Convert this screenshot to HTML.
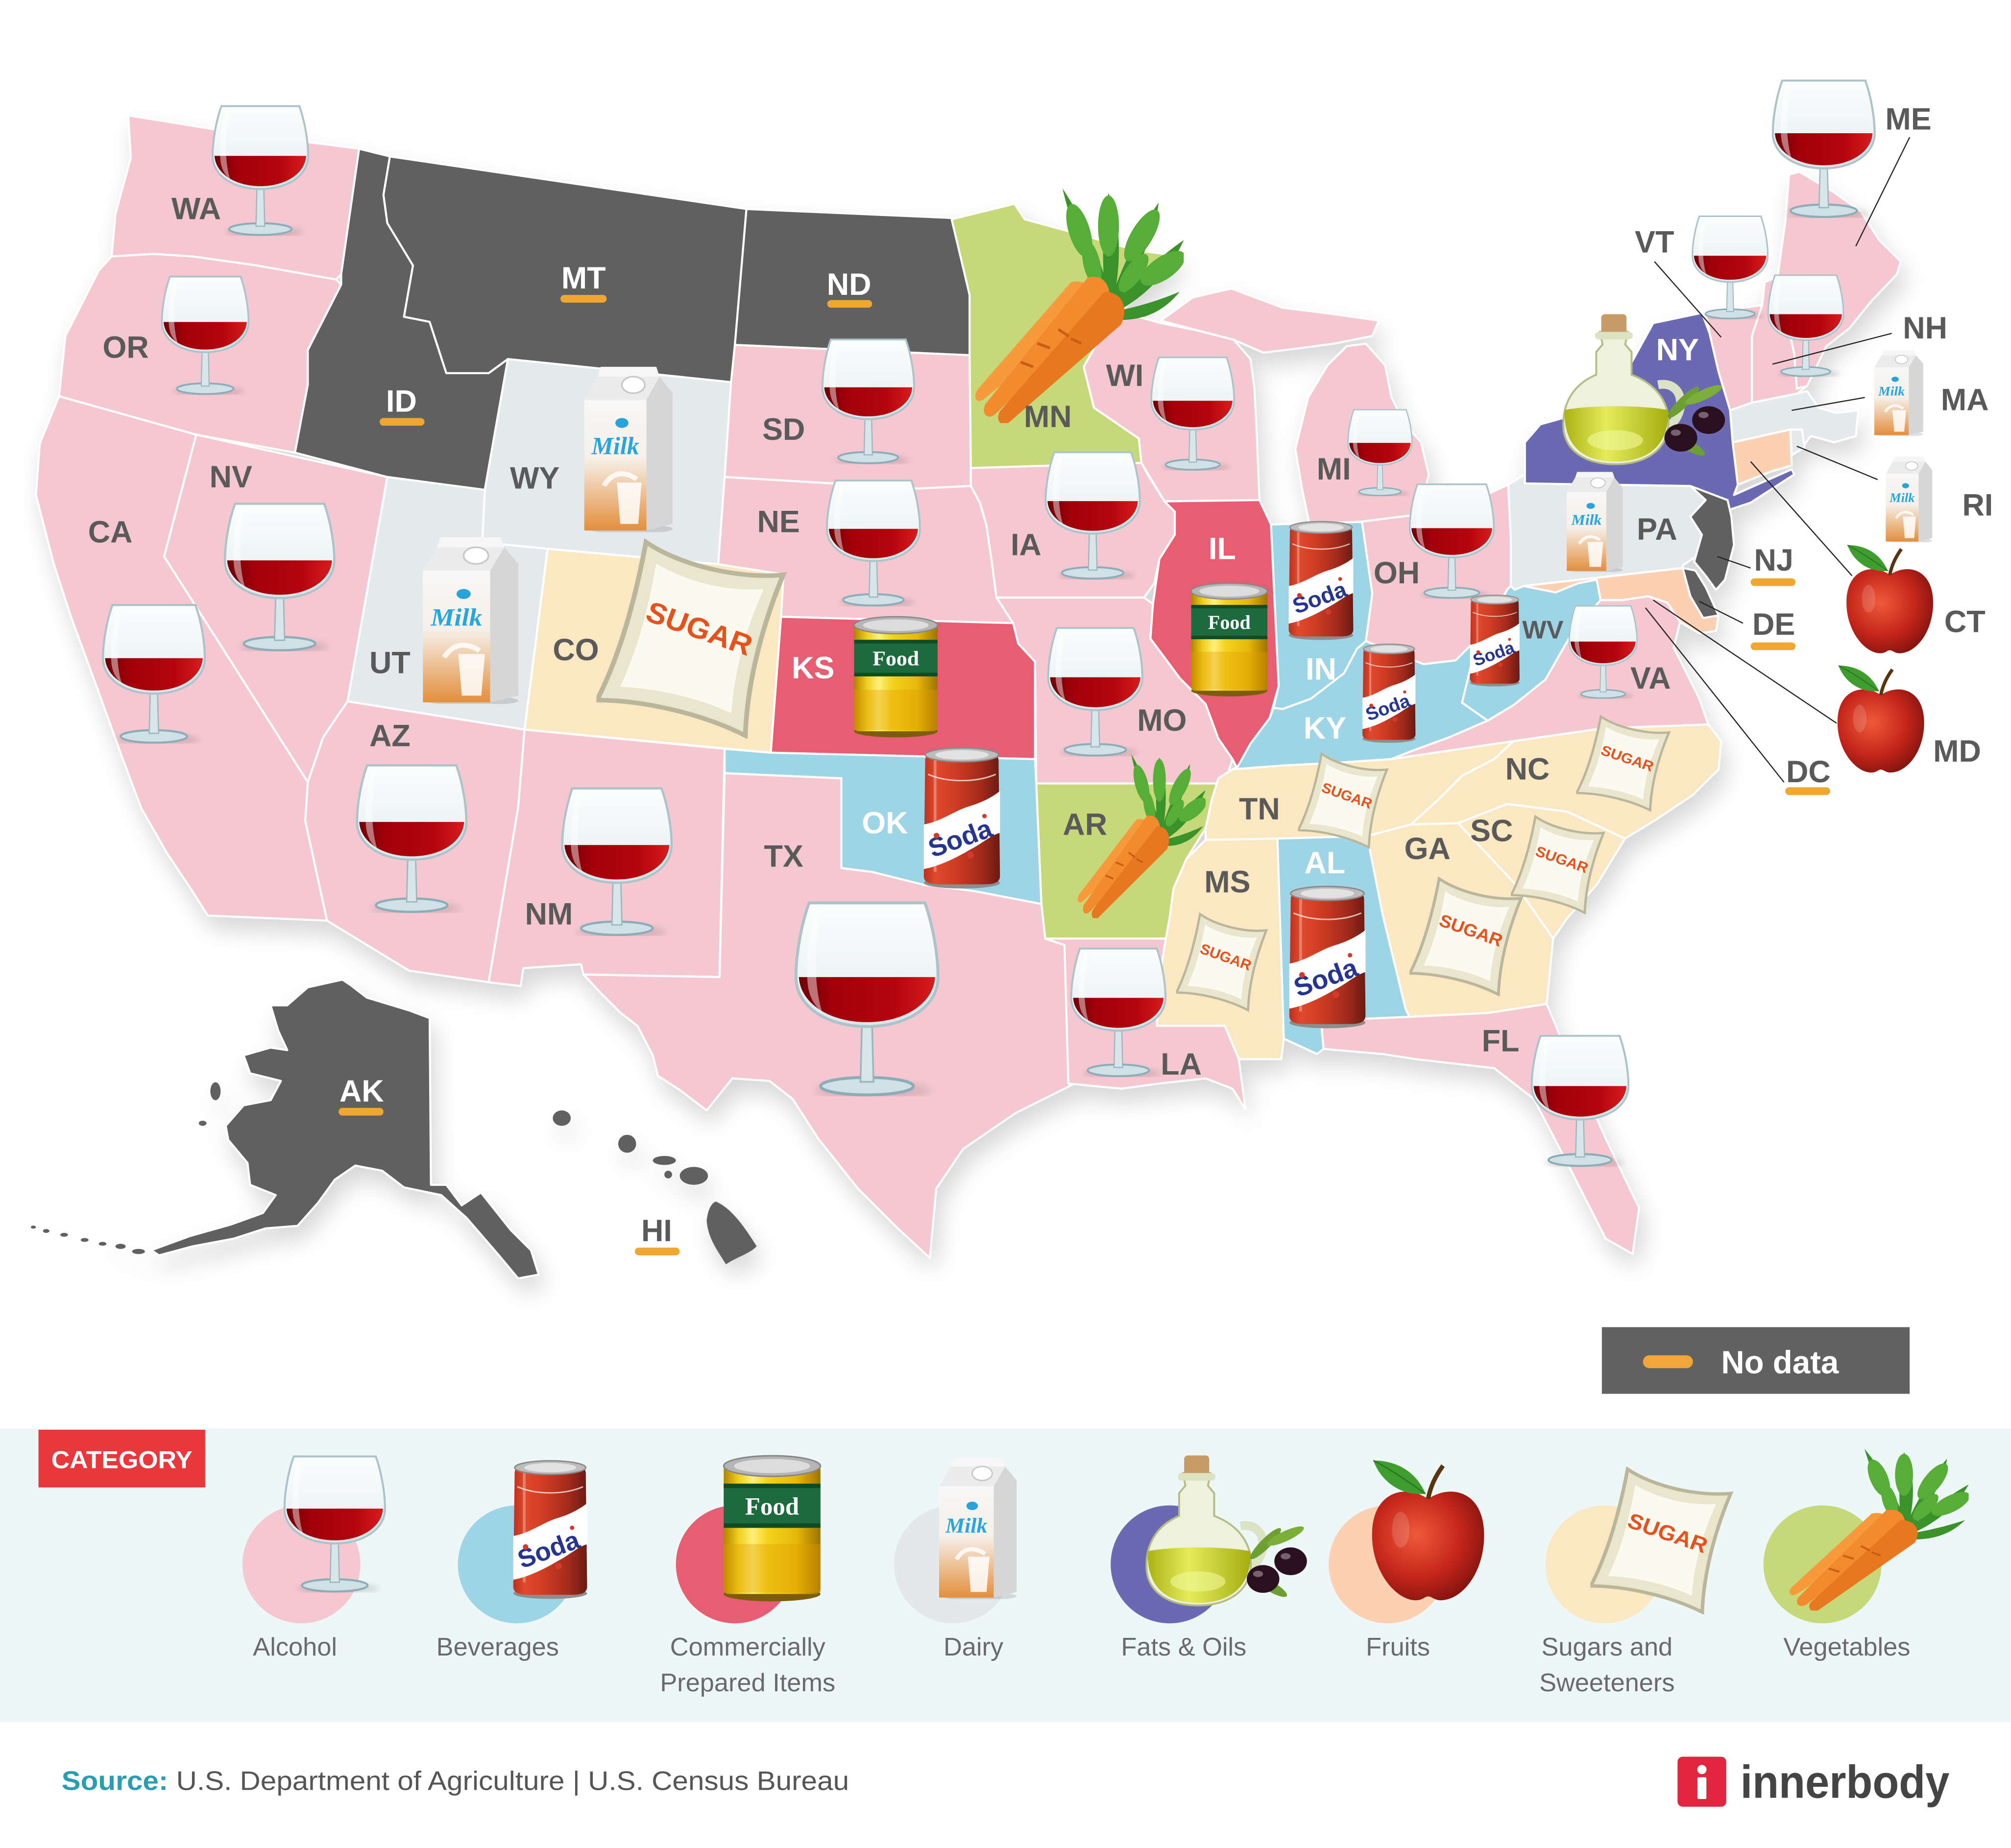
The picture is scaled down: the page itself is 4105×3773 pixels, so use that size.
<!DOCTYPE html>
<html><head><meta charset="utf-8"><style>
html,body{margin:0;padding:0;background:#fff;}
body{width:4105px;height:3773px;overflow:hidden;}
svg{display:block;}
</style></head><body>
<svg xmlns="http://www.w3.org/2000/svg" width="4105" height="3773" viewBox="0 0 1568 1441.2">
<defs>
<linearGradient id="gg" x1="0" y1="0" x2="0" y2="1"><stop offset="0" stop-color="#fbfdfd"/><stop offset=".6" stop-color="#eef4f5"/><stop offset="1" stop-color="#d9e5e8"/></linearGradient>
<linearGradient id="wine" x1="0" y1="0" x2="1" y2="0"><stop offset="0" stop-color="#6e0006"/><stop offset=".25" stop-color="#a2000a"/><stop offset=".7" stop-color="#b3050d"/><stop offset="1" stop-color="#d81c1e"/></linearGradient>
<linearGradient id="sodaG" x1="0" y1="0" x2="1" y2="0"><stop offset="0" stop-color="#b8321f"/><stop offset=".15" stop-color="#e0492c"/><stop offset=".4" stop-color="#d03d24"/><stop offset=".75" stop-color="#a32a1c"/><stop offset="1" stop-color="#6a1b13"/></linearGradient>
<linearGradient id="foodG" x1="0" y1="0" x2="1" y2="0"><stop offset="0" stop-color="#b08400"/><stop offset=".15" stop-color="#eecd1e"/><stop offset=".3" stop-color="#fff07a"/><stop offset=".45" stop-color="#f3d31e"/><stop offset=".75" stop-color="#e7b80a"/><stop offset="1" stop-color="#9f7300"/></linearGradient>
<linearGradient id="milkG" x1="0" y1="0" x2="0" y2="1"><stop offset="0" stop-color="#f7f7f7"/><stop offset=".45" stop-color="#f6f0e8"/><stop offset="1" stop-color="#e38e3c"/></linearGradient>
<radialGradient id="apG" cx=".4" cy=".4" r=".65"><stop offset="0" stop-color="#ef5a3a"/><stop offset=".6" stop-color="#c4261a"/><stop offset="1" stop-color="#861410"/></radialGradient>
<linearGradient id="oilG" x1="0" y1="0" x2="1" y2="0"><stop offset="0" stop-color="#a9b314"/><stop offset=".4" stop-color="#e4ec5a"/><stop offset="1" stop-color="#a4ae10"/></linearGradient>
<filter id="sh" x="-10%" y="-10%" width="120%" height="120%"><feGaussianBlur in="SourceAlpha" stdDeviation="9"/><feOffset dx="4" dy="10"/><feComponentTransfer><feFuncA type="linear" slope="0.16"/></feComponentTransfer></filter>
<filter id="bl" x="-50%" y="-50%" width="200%" height="200%"><feGaussianBlur stdDeviation="3"/></filter>

<symbol id="glass" viewBox="0 0 100 134" preserveAspectRatio="none">
<ellipse cx="54" cy="130" rx="40" ry="5" fill="#000" opacity=".13" filter="url(#bl)"/>
<ellipse cx="50" cy="127" rx="32" ry="6" fill="#cfe1e6" stroke="#8cadb7" stroke-width="2"/>
<path d="M46.5,84 L45.5,124 L54.5,124 L53.5,84Z" fill="#d8e6ea" stroke="#9cb6be" stroke-width="1.2"/>
<path d="M10,1 L90,1 C96,18 99,38 99,52 C99,72 78,86 50,86 C22,86 1,72 1,52 C1,38 4,18 10,1Z" fill="url(#gg)" stroke="#acc3ca" stroke-width="2"/>
<path d="M3,52 L97,52 C96,70 76,83 50,83 C24,83 4,70 3,52Z" fill="url(#wine)"/>
<path d="M14,6 C9,24 8,42 9,56 C10,66 14,72 19,76 C14,60 13,36 18,6Z" fill="#fff" opacity=".45"/>
</symbol>

<symbol id="soda" viewBox="0 0 60 105" preserveAspectRatio="none">
<ellipse cx="30" cy="100" rx="27" ry="4" fill="#8d8d8d"/>
<path d="M4,12 C4,8 8,6 12,6 L48,6 C52,6 56,8 56,12 L57,95 C57,100 52,101 46,101 L14,101 C8,101 3,100 3,95Z" fill="url(#sodaG)"/>
<path d="M3,58 C15,56 25,48 35,45 C45,42 52,38 57,34 L57,64 C50,66 44,72 36,76 C26,82 14,88 3,90Z" fill="#fff"/>
<path d="M10,12 L12,12 L12,92 L10,92Z" fill="#fff" opacity=".3"/>
<path d="M6,22 C20,28 40,28 54,22" stroke="#fff" stroke-width="1" fill="none" opacity=".7"/>
<text transform="translate(31,74) rotate(-20)" text-anchor="middle" font-family="Liberation Sans, sans-serif" font-weight="bold" font-size="19" fill="#26358f">Soda</text>
<circle cx="12" cy="66" r="2" fill="#d43a2a"/><circle cx="46" cy="52" r="1.6" fill="#d43a2a"/><circle cx="36" cy="80" r="2.4" fill="#d43a2a"/>
<ellipse cx="30" cy="8" rx="26" ry="5" fill="#bdbdbd" stroke="#8a8a8a" stroke-width="1"/>
<ellipse cx="30" cy="8" rx="19" ry="3.4" fill="#e2e2e2"/>
</symbol>

<symbol id="food" viewBox="0 0 70 102" preserveAspectRatio="none">
<ellipse cx="35" cy="96" rx="33" ry="5" fill="#7b5d0c"/>
<rect x="2" y="8" width="66" height="88" rx="3" fill="url(#foodG)"/>
<rect x="2" y="62" width="66" height="33" fill="#e39a00" opacity=".35"/>
<rect x="2" y="21" width="66" height="30" fill="#1c6a3d"/>
<rect x="2" y="21" width="66" height="3" fill="#0e4c28"/>
<rect x="2" y="48" width="66" height="3" fill="#0e4c28"/>
<text x="35" y="42" text-anchor="middle" font-family="Liberation Serif, serif" font-weight="bold" font-size="17" fill="#fff">Food</text>
<ellipse cx="35" cy="9" rx="33" ry="7" fill="#b5b5b5" stroke="#868686" stroke-width="1"/>
<ellipse cx="35" cy="9" rx="26" ry="4.8" fill="#dcdcdc"/>
</symbol>

<symbol id="milk" viewBox="0 0 58 100" preserveAspectRatio="none">
<ellipse cx="30" cy="98" rx="26" ry="3" fill="#000" opacity=".12"/>
<polygon points="40,20 48,6 56,16 56,95 40,99" fill="#d6d6d6"/>
<rect x="2" y="20" width="38" height="79" fill="url(#milkG)"/>
<polygon points="2,20 10,6 48,6 40,20" fill="#ececec"/>
<polygon points="10,6 12,0 46,0 48,6" fill="#f6f6f6"/>
<ellipse cx="32" cy="11" rx="7" ry="5" fill="#fff" stroke="#c8c8c8" stroke-width="1"/>
<ellipse cx="25" cy="34" rx="4" ry="3" fill="#29a3da"/>
<text x="21" y="53" text-anchor="middle" font-family="Liberation Serif, serif" font-style="italic" font-weight="bold" font-size="15" fill="#28a5de">Milk</text>
<path d="M22,70 L37,70 L35,95 L24,95Z" fill="#fff" opacity=".85"/>
<path d="M14,72 C20,62 28,64 34,68" stroke="#fff" stroke-width="3" fill="none" opacity=".8"/>
</symbol>

<symbol id="sugar" viewBox="0 0 100 110" preserveAspectRatio="none">
<g transform="rotate(14 50 55)">
<path d="M14,10 C34,18 66,18 88,10 C84,40 84,72 90,100 C66,94 34,94 10,100 C16,72 16,40 14,10Z" fill="#e9e6cd" stroke="#b9b69c" stroke-width="2.5"/>
<path d="M22,20 C40,26 62,26 80,20 C76,44 76,68 80,90 C62,86 40,86 20,90 C24,68 24,44 22,20Z" fill="#fbfaf0"/>
</g>
<text x="52" y="55" text-anchor="middle" font-family="Liberation Sans, sans-serif" font-weight="bold" font-size="16" fill="#e6521e" transform="rotate(20 52 55)">SUGAR</text>
</symbol>

<symbol id="carrot" viewBox="0 0 100 100" preserveAspectRatio="none">
<g fill="#3b922a">
<path d="M58,46 C52,30 46,15 42,0 C51,12 59,27 64,43Z"/>
<path d="M62,44 C61,28 61,14 64,2 C70,14 70,30 67,45Z"/>
<path d="M66,45 C72,30 80,16 88,6 C86,20 78,34 70,47Z"/>
<path d="M68,48 C78,38 90,28 100,22 C94,34 84,44 71,51Z"/>
<path d="M69,52 C80,50 90,47 98,44 C90,53 80,56 70,56Z"/>
</g>
<g fill="#56ad38">
<ellipse cx="50" cy="18" rx="5" ry="12" transform="rotate(-20 50 18)"/>
<ellipse cx="64" cy="16" rx="5" ry="13"/>
<ellipse cx="80" cy="20" rx="5" ry="13" transform="rotate(35 80 20)"/>
<ellipse cx="90" cy="34" rx="5" ry="12" transform="rotate(60 90 34)"/>
<ellipse cx="56" cy="32" rx="4" ry="10" transform="rotate(-15 56 32)"/>
<ellipse cx="76" cy="36" rx="4" ry="10" transform="rotate(40 76 36)"/>
</g>
<path d="M46,40 C54,38 58,44 56,52 L4,90 C0,92 -1,88 2,85Z" fill="#f69a3c"/>
<path d="M54,38 C62,36 66,42 64,50 L10,96 C6,99 3,96 5,92Z" fill="#f28b2e"/>
<path d="M62,44 C70,44 74,50 70,58 L16,100 C12,102 10,98 12,95Z" fill="#e8781f"/>
<path d="M30,66 l6,2 M22,74 l6,2 M40,60 l5,3 M46,64 l5,2" stroke="#c95e14" stroke-width="1.2"/>
</symbol>

<symbol id="apple" viewBox="0 0 100 115" preserveAspectRatio="none">
<path d="M50,34 C32,22 6,28 5,60 C4,90 24,113 40,113 C46,113 47,110 50,110 C53,110 55,113 60,113 C78,113 96,90 95,60 C94,28 68,22 50,34Z" fill="url(#apG)"/>
<path d="M50,34 C52,24 56,16 62,8" stroke="#5a3410" stroke-width="3.5" fill="none"/>
<path d="M48,30 C40,12 24,4 6,4 C12,20 28,32 48,30Z" fill="#3f9c2f"/>
<path d="M48,30 C36,22 22,12 6,4" stroke="#2a7520" stroke-width="1" fill="none"/>
<ellipse cx="28" cy="58" rx="7" ry="14" fill="#fff" opacity=".15"/>
</symbol>

<symbol id="oil" viewBox="0 0 130 120" preserveAspectRatio="none">
<path d="M76,56 C98,52 100,82 80,92" stroke="#dce3c4" stroke-width="7" fill="none"/>
<path d="M30,14 L52,14 L50,24 L55,30 L55,48 C76,56 86,72 84,90 C82,108 66,119 42,119 C18,119 2,108 1,90 C0,72 8,56 27,48 L27,30 L32,24Z" fill="#eef2dc" stroke="#b3bc86" stroke-width="1.5"/>
<path d="M2,76 C22,72 62,72 84,76 C85,104 68,117 42,117 C16,117 1,104 2,76Z" fill="url(#oilG)"/>
<ellipse cx="42" cy="100" rx="22" ry="8" fill="#f2f69a" opacity=".6"/>
<rect x="31" y="0" width="20" height="16" rx="3" fill="#c89a66"/>
<rect x="26" y="14" width="30" height="6" rx="3" fill="#dde3c0"/>
<ellipse cx="96" cy="70" rx="17" ry="4" fill="#6d9f32" transform="rotate(-45 96 70)"/>
<ellipse cx="112" cy="64" rx="16" ry="4" fill="#7cae3a" transform="rotate(-25 112 64)"/>
<ellipse cx="100" cy="104" rx="15" ry="4" fill="#6d9f32" transform="rotate(30 100 104)"/>
<ellipse cx="94" cy="98" rx="13" ry="11" fill="#2a0f1e"/>
<ellipse cx="116" cy="84" rx="13" ry="11" fill="#2a0f1e"/>
<ellipse cx="90" cy="94" rx="4" ry="2.5" fill="#fff" opacity=".35"/>
<ellipse cx="112" cy="80" rx="4" ry="2.5" fill="#fff" opacity=".35"/>
</symbol>
</defs>

<rect x="0" y="0" width="1568" height="1441.2" fill="#fff"/>

<use href="#land" filter="url(#sh)"/>
<g id="land" stroke="#fff" stroke-width="1.6" stroke-linejoin="round">
<polygon fill="#f5c7d0" points="100,90 180,103 280,116 266,214 262,218 200,207 150,200 120,198 87,200 90,167 102,123"/>
<polygon fill="#f5c7d0" points="87,200 120,198 150,200 200,207 262,218 266,222 240,273 240,300 230,353 153,339 46,309 51,262 77,211"/>
<polygon fill="#f5c7d0" points="46,309 153,339 128,434 240,610 238,640 255,718 162,714 150,695 130,665 110,630 95,590 77,540 55,480 42,440 28,386 31,346"/>
<polygon fill="#f5c7d0" points="153,339 302,372 271,547 262,560 252,575 240,610 128,434"/>
<polygon fill="#606060" points="280,116 304,122 299,152 302,174 322,207 315,247 335,251 348,291 381,291 396,280 378,382 302,372 230,353 240,300 240,273 266,222 266,214"/>
<polygon fill="#606060" points="304,122 582,163 573,269 570,298 396,280 381,291 348,291 335,251 315,247 322,207 302,174 299,152"/>
<polygon fill="#e4e9ec" points="396,280 570,298 565,372 560,440 427,428 376,423 378,382"/>
<polygon fill="#e4e9ec" points="302,372 378,382 376,423 427,428 409,569 271,547"/>
<polygon fill="#fbe8c3" points="427,428 560,440 611,448 609,481 601,587 409,569"/>
<polygon fill="#f5c7d0" points="271,547 409,569 404,630 381,766 319,757 255,718 238,640 240,610 252,575 262,560"/>
<polygon fill="#f5c7d0" points="409,569 565,584 561,762 455,760 453,752 408,755 406,769 381,766 404,630"/>
<polygon fill="#606060" points="582,163 742,170 756,230 756,277 573,269"/>
<polygon fill="#f5c7d0" points="573,269 756,277 757,365 757,379 716,381 565,372 570,298"/>
<polygon fill="#f5c7d0" points="565,372 716,381 757,379 764,392 769,409 773,436 777,466 790,486 609,481 611,448 560,440"/>
<polygon fill="#e75d71" points="609,481 790,486 794,502 807,516 807,592 601,587"/>
<polygon fill="#9dd5e6" points="565,584 601,587 807,592 808,611 812,705 760,695 720,690 680,680 656,677 656,607 565,603"/>
<polygon fill="#f5c7d0" points="565,603 656,607 656,677 680,680 720,690 760,695 812,705 815,732 830,737 833,790 838,845 792,868 751,896 730,927 727,960 725,981 700,958 669,927 638,888 618,857 600,843 571,841 551,866 530,850 513,839 509,823 497,800 484,790 468,774 455,760 561,762"/>
<polygon fill="#c6d87a" points="742,171 791,159 799,171 850,185 885,195 923,200 895,225 873,243 857,265 845,286 853,318 888,342 890,361 757,365 756,277 756,230"/>
<polygon fill="#f5c7d0" points="757,365 890,361 896,372 908,391 916,399 916,417 904,436 900,455 892,466 777,466 773,436 769,409 764,392 757,379"/>
<polygon fill="#f5c7d0" points="777,466 892,466 899,471 897,498 920,529 940,549 950,576 961,592 955,611 808,611 807,516 794,502 790,486"/>
<polygon fill="#c6d87a" points="808,611 952,611 945,623 940,646 925,670 915,693 912,716 909,732 815,732 812,705"/>
<polygon fill="#f5c7d0" points="815,732 909,732 904,763 902,800 955,800 966,826 971,865 961,849 940,841 904,845 874,849 833,845 830,737"/>
<polygon fill="#f5c7d0" points="873,243 905,252 935,258 962,265 975,280 978,302 980,340 982,390 908,391 890,361 888,342 853,318 845,286 857,265"/>
<polygon fill="#f5c7d0" points="905,250 930,232 960,225 1000,240 1040,245 1075,250 1070,262 1040,268 1010,272 985,275 962,265 935,258"/>
<polygon fill="#f5c7d0" points="1021,409 1015,380 1010,350 1020,310 1035,285 1050,270 1065,268 1080,285 1085,310 1095,330 1108,345 1114,370 1108,395 1100,402 1060,407"/>
<polygon fill="#e75d71" points="908,391 982,390 991,409 997,535 990,560 975,580 965,600 961,592 950,576 940,549 920,529 897,498 899,471 904,436 916,417 916,399"/>
<polygon fill="#9dd5e6" points="991,409 1062,407 1070,463 1065,500 1058,506 1048,525 1022,545 1000,553 993,552 997,535"/>
<polygon fill="#f5c7d0" points="1060,407 1100,402 1130,398 1150,390 1176,378 1178,420 1178,457 1175,460 1165,480 1150,500 1135,515 1110,518 1090,510 1065,500 1070,463 1062,407"/>
<polygon fill="#9dd5e6" points="961,600 965,598 975,580 990,560 993,552 1000,553 1022,545 1048,525 1058,506 1065,500 1090,510 1110,518 1135,515 1150,500 1148,515 1140,548 1160,562 1130,575 1100,586 1085,592 1040,595 1000,597"/>
<polygon fill="#9dd5e6" points="1178,420 1186,420 1188,457 1213,462 1230,455 1245,452 1248,468 1225,495 1205,530 1180,550 1160,562 1140,548 1148,515 1150,500 1165,480 1175,460 1178,457"/>
<polygon fill="#f5c7d0" points="1085,592 1100,586 1130,575 1160,562 1180,550 1205,530 1225,495 1248,468 1265,468 1285,465 1300,470 1310,485 1305,505 1315,525 1325,545 1332,565 1250,568 1180,578"/>
<polygon fill="#fbe8c3" points="950,607 961,600 1000,597 1040,595 1085,592 1180,578 1165,592 1140,605 1120,625 1100,643 1066,652 996,654 940,655 940,646 945,623"/>
<polygon fill="#fbe8c3" points="1100,643 1120,625 1140,605 1165,592 1180,578 1250,568 1332,565 1342,578 1340,600 1320,620 1290,640 1267,654 1222,633 1175,627 1137,642"/>
<polygon fill="#fbe8c3" points="1137,642 1175,627 1222,633 1267,654 1245,690 1222,716 1211,732 1181,689"/>
<polygon fill="#fbe8c3" points="1066,652 1100,643 1137,642 1181,689 1211,732 1206,783 1160,790 1099,793 1096,787 1078,713"/>
<polygon fill="#9dd5e6" points="996,654 1066,652 1078,713 1096,787 1099,793 1030,796 1032,818 1027,822 1001,810"/>
<polygon fill="#fbe8c3" points="940,655 996,654 1001,810 999,826 966,826 955,800 902,800 904,763 909,732 912,716 915,693 925,670"/>
<polygon fill="#f5c7d0" points="1030,796 1099,793 1160,790 1206,783 1219,814 1252,888 1278,942 1273,978 1252,966 1222,907 1196,857 1165,833 1104,826 1078,822 1032,818"/>
<polygon fill="#e4e9ec" points="1176,378 1189,370 1189,377 1318,379 1330,390 1318,403 1330,417 1324,433 1312,441 1312,443 1188,457 1181,460 1178,457 1178,420"/>
<polygon fill="#6c69b3" points="1189,377 1189,345 1201,331 1233,322 1245,300 1260,285 1272,283 1289,252 1327,244 1333,260 1340,290 1349,320 1351,345 1355,378 1352,386 1370,378 1397,366 1399,370 1365,392 1347,398 1330,390 1318,379"/>
<polygon fill="#606060" points="1318,379 1347,390 1350,403 1352,425 1345,452 1338,460 1330,449 1321,438 1327,417 1318,403 1330,390"/>
<polygon fill="#606060" points="1312,443 1322,445 1330,458 1340,480 1328,482 1318,465"/>
<polygon fill="#fcd1b3" points="1188,457 1312,443 1318,465 1328,482 1340,480 1338,492 1325,494 1310,485 1300,470 1285,465 1265,468 1248,468 1245,452 1230,455 1213,462"/>
<polygon fill="#f5c7d0" points="1330,244 1374,238 1366,262 1366,314 1349,320 1340,290 1333,260"/>
<polygon fill="#f5c7d0" points="1376,220 1386,216 1399,276 1401,303 1409,301 1401,307 1366,314 1366,262 1374,238"/>
<polygon fill="#f5c7d0" points="1395,136 1403,134 1430,150 1451,165 1465,187 1482,204 1479,214 1459,235 1442,256 1424,270 1409,301 1401,303 1399,276 1386,216 1392,173"/>
<polygon fill="#e4e9ec" points="1349,320 1366,314 1401,307 1409,305 1418,318 1432,322 1449,320 1447,340 1430,345 1412,340 1405,349 1396,335 1351,345"/>
<polygon fill="#fcd1b3" points="1351,345 1396,335 1397,363 1380,368 1355,378"/>
<polygon fill="#e4e9ec" points="1396,335 1405,335 1407,349 1397,355"/>
<polygon fill="#606060" points="267,764 273,768 286,778 319,788 335,794 336,924 348,924 360,940 375,930 398,959 414,975 420,994 404,997 389,979 364,950 344,932 315,926 298,913 277,909 261,920 248,938 232,956 207,958 182,966 150,972 124,979 118,975 148,964 180,955 205,946 215,932 195,924 193,907 178,889 176,878 190,862 211,858 219,843 195,837 190,823 211,817 224,819 217,804 211,784 224,784 240,770"/>
<g fill="#606060" stroke="none">
<ellipse cx="108" cy="976" rx="5" ry="2"/><ellipse cx="94" cy="972" rx="4" ry="2"/><ellipse cx="80" cy="970" rx="3" ry="1.5"/><ellipse cx="66" cy="967" rx="3" ry="1.5"/><ellipse cx="50" cy="963" rx="3" ry="1.5"/><ellipse cx="36" cy="960" rx="2.5" ry="1.5"/><ellipse cx="26" cy="957" rx="2" ry="1.2"/>
<ellipse cx="168" cy="851" rx="4" ry="7"/><ellipse cx="158" cy="876" rx="3" ry="2"/>
<ellipse cx="438" cy="872" rx="7" ry="6"/><ellipse cx="489" cy="892" rx="7" ry="7"/><ellipse cx="518" cy="905" rx="9" ry="3.5"/><ellipse cx="521" cy="916" rx="3" ry="3"/><ellipse cx="541" cy="917" rx="11" ry="7"/>
<path d="M558,937 C570,942 580,956 590,972 C584,978 575,980 566,986 C560,976 552,966 551,952 C552,944 554,939 558,937Z"/>
</g>
</g>

<use href="#glass" x="165" y="82" width="76" height="102"/>
<use href="#glass" x="125.5" y="215" width="69" height="93"/>
<use href="#glass" x="174.5" y="392" width="87" height="116"/>
<use href="#glass" x="79.5" y="471" width="81" height="109"/>
<use href="#glass" x="277.5" y="596" width="87" height="116"/>
<use href="#glass" x="437.5" y="614" width="87" height="116"/>
<use href="#glass" x="619.5" y="703" width="113" height="152"/>
<use href="#glass" x="640.5" y="264" width="73" height="98"/>
<use href="#glass" x="644" y="374" width="74" height="99"/>
<use href="#glass" x="897" y="278" width="66" height="89"/>
<use href="#glass" x="814.5" y="352" width="75" height="100"/>
<use href="#glass" x="816.5" y="489" width="75" height="101"/>
<use href="#glass" x="834.5" y="739" width="75" height="101"/>
<use href="#glass" x="1050.5" y="319" width="51" height="68"/>
<use href="#glass" x="1098.5" y="377" width="67" height="90"/>
<use href="#glass" x="1223" y="472" width="54" height="73"/>
<use href="#glass" x="1193.5" y="807" width="77" height="103"/>
<use href="#glass" x="1319" y="168" width="60" height="81"/>
<use href="#glass" x="1378" y="214" width="60" height="80"/>
<use href="#glass" x="1381.5" y="62" width="81" height="108"/>

<use href="#milk" x="453" y="286" width="74" height="129"/>
<use href="#milk" x="327" y="419" width="80" height="130"/>
<use href="#milk" x="1220" y="368" width="47" height="78"/>
<use href="#milk" x="1460" y="273" width="41" height="67"/>
<use href="#milk" x="1469" y="356" width="39" height="67"/>

<use href="#sugar" x="465" y="419" width="149" height="157"/>
<use href="#sugar" x="1012" y="586" width="71" height="76"/>
<use href="#sugar" x="1229" y="557" width="74" height="76"/>
<use href="#sugar" x="1178" y="635" width="74" height="78"/>
<use href="#sugar" x="917" y="711" width="72" height="78"/>
<use href="#sugar" x="1099" y="683" width="89" height="94"/>

<use href="#food" x="664" y="479" width="69" height="97"/>
<use href="#food" x="927" y="453" width="63" height="91"/>

<use href="#soda" x="1002" y="404" width="56" height="96"/>
<use href="#soda" x="1060" y="500" width="46" height="80"/>
<use href="#soda" x="1144" y="462" width="43" height="74"/>
<use href="#soda" x="717" y="580" width="66" height="114"/>
<use href="#soda" x="1002" y="688" width="66" height="115"/>

<use href="#carrot" x="760" y="147" width="163" height="183"/>
<use href="#carrot" x="840" y="588" width="100" height="128"/>

<use href="#apple" x="1436" y="422" width="75" height="89"/>
<use href="#apple" x="1429" y="516" width="75" height="88"/>

<use href="#oil" x="1218" y="245" width="128" height="118"/>

<g stroke="#222" stroke-width="0.9">
<line x1="1489" y1="107" x2="1447" y2="192"/>
<line x1="1290" y1="204" x2="1342" y2="263"/>
<line x1="1475" y1="260" x2="1382" y2="284"/>
<line x1="1454" y1="310" x2="1397" y2="320"/>
<line x1="1464" y1="374" x2="1401" y2="348"/>
<line x1="1444" y1="449" x2="1365" y2="360"/>
<line x1="1365" y1="443" x2="1339" y2="434"/>
<line x1="1359" y1="486" x2="1325" y2="469"/>
<line x1="1432" y1="564" x2="1289" y2="468"/>
<line x1="1391" y1="610" x2="1283" y2="474"/>
</g>

<g font-family="Liberation Sans, sans-serif" font-weight="bold" font-size="24" fill="#5a5a5a" text-anchor="middle">
<text x="153" y="171">WA</text>
<text x="98" y="279">OR</text>
<text x="86" y="423">CA</text>
<text x="180" y="380">NV</text>
<text x="417" y="381">WY</text>
<text x="304" y="525">UT</text>
<text x="449" y="515">CO</text>
<text x="304" y="582">AZ</text>
<text x="428" y="721">NM</text>
<text x="611" y="343">SD</text>
<text x="607" y="415">NE</text>
<text x="611" y="676">TX</text>
<text x="817" y="333">MN</text>
<text x="800" y="433">IA</text>
<text x="906" y="570">MO</text>
<text x="846" y="651">AR</text>
<text x="921" y="838">LA</text>
<text x="877" y="301">WI</text>
<text x="1040" y="374">MI</text>
<text x="1089" y="455">OH</text>
<text x="982" y="639">TN</text>
<text x="957" y="696">MS</text>
<text x="1113" y="670">GA</text>
<text x="1170" y="820">FL</text>
<text x="1163" y="656">SC</text>
<text x="1191" y="608">NC</text>
<text x="1287" y="537">VA</text>
<text x="1203" y="498" font-size="20">WV</text>
<text x="1292" y="421">PA</text>
<text x="1383" y="445">NJ</text>
<text x="1383" y="495">DE</text>
<text x="1410" y="610">DC</text>
<text x="1532" y="493">CT</text>
<text x="1526" y="594">MD</text>
<text x="1542" y="402">RI</text>
<text x="1532" y="320">MA</text>
<text x="1501" y="264">NH</text>
<text x="1290" y="197">VT</text>
<text x="1488" y="101">ME</text>
<text x="512" y="968">HI</text>
</g>
<g font-family="Liberation Sans, sans-serif" font-weight="bold" font-size="24" fill="#fff" text-anchor="middle">
<text x="313" y="321">ID</text>
<text x="455" y="225">MT</text>
<text x="662" y="230">ND</text>
<text x="634" y="529">KS</text>
<text x="690" y="650">OK</text>
<text x="953" y="436">IL</text>
<text x="1030" y="530">IN</text>
<text x="1033" y="576">KY</text>
<text x="1033" y="681">AL</text>
<text x="1308" y="281">NY</text>
<text x="282" y="859">AK</text>
</g>
<g fill="#f0a732">
<rect x="437" y="230" width="36" height="6" rx="3"/>
<rect x="645" y="234" width="35" height="6" rx="3"/>
<rect x="296" y="326" width="35" height="6" rx="3"/>
<rect x="264" y="864" width="35" height="6" rx="3"/>
<rect x="495" y="973" width="35" height="6" rx="3"/>
<rect x="1365" y="451" width="35" height="6" rx="3"/>
<rect x="1365" y="501" width="35" height="6" rx="3"/>
<rect x="1392" y="614" width="35" height="6" rx="3"/>
</g>

<rect x="1249" y="1035" width="240" height="52" fill="#616161"/>
<rect x="1281" y="1057" width="39" height="10" rx="5" fill="#f0a73a"/>
<text x="1342" y="1071" font-family="Liberation Sans, sans-serif" font-weight="bold" font-size="25" fill="#fff">No data</text>

<rect x="0" y="1114" width="1568" height="229" fill="#eef7f7"/>
<rect x="30" y="1115" width="130" height="45" fill="#e8383b"/>
<text x="95" y="1145" text-anchor="middle" font-family="Liberation Sans, sans-serif" font-weight="bold" font-size="19" fill="#fff" textLength="110" lengthAdjust="spacingAndGlyphs">CATEGORY</text>

<circle cx="235" cy="1220" r="46" fill="#f5c7d0"/>
<circle cx="403" cy="1220" r="46" fill="#9dd5e6"/>
<circle cx="573" cy="1220" r="46" fill="#e75d71"/>
<circle cx="743" cy="1220" r="46" fill="#e4e8eb"/>
<circle cx="912" cy="1220" r="46" fill="#6c69b3"/>
<circle cx="1082" cy="1220" r="46" fill="#fcd1b3"/>
<circle cx="1251" cy="1220" r="46" fill="#fbe8c3"/>
<circle cx="1421" cy="1220" r="46" fill="#c6d87a"/>

<use href="#glass" x="221" y="1135" width="80" height="107"/>
<use href="#soda" x="397" y="1136" width="64" height="112"/>
<use href="#food" x="562" y="1133" width="80" height="117"/>
<use href="#milk" x="730" y="1137" width="65" height="110"/>
<use href="#oil" x="893" y="1135" width="127" height="118"/>
<use href="#apple" x="1065" y="1135" width="97" height="115"/>
<use href="#sugar" x="1240" y="1143" width="112" height="116"/>
<use href="#carrot" x="1395" y="1130" width="140" height="126"/>

<g font-family="Liberation Sans, sans-serif" font-size="20" fill="#6a6a6a" text-anchor="middle">
<text x="230" y="1291">Alcohol</text>
<text x="388" y="1291">Beverages</text>
<text x="583" y="1291">Commercially</text>
<text x="583" y="1319">Prepared Items</text>
<text x="759" y="1291">Dairy</text>
<text x="923" y="1291">Fats &amp; Oils</text>
<text x="1090" y="1291">Fruits</text>
<text x="1253" y="1291">Sugars and</text>
<text x="1253" y="1319">Sweeteners</text>
<text x="1440" y="1291">Vegetables</text>
</g>

<text x="48" y="1396" font-family="Liberation Sans, sans-serif" font-size="21" fill="#555" textLength="614" lengthAdjust="spacingAndGlyphs"><tspan font-weight="bold" fill="#2a9db2">Source:</tspan> U.S. Department of Agriculture | U.S. Census Bureau</text>
<rect x="1308" y="1370" width="38" height="39" rx="4" fill="#e2263f"/>
<circle cx="1327" cy="1380" r="3.6" fill="#fff"/>
<rect x="1323.5" y="1386" width="7" height="17" rx="1" fill="#fff"/>
<text x="1357" y="1402" font-family="Liberation Sans, sans-serif" font-weight="bold" font-size="36" fill="#444" textLength="163" lengthAdjust="spacingAndGlyphs">innerbody</text>
</svg>
</body></html>
